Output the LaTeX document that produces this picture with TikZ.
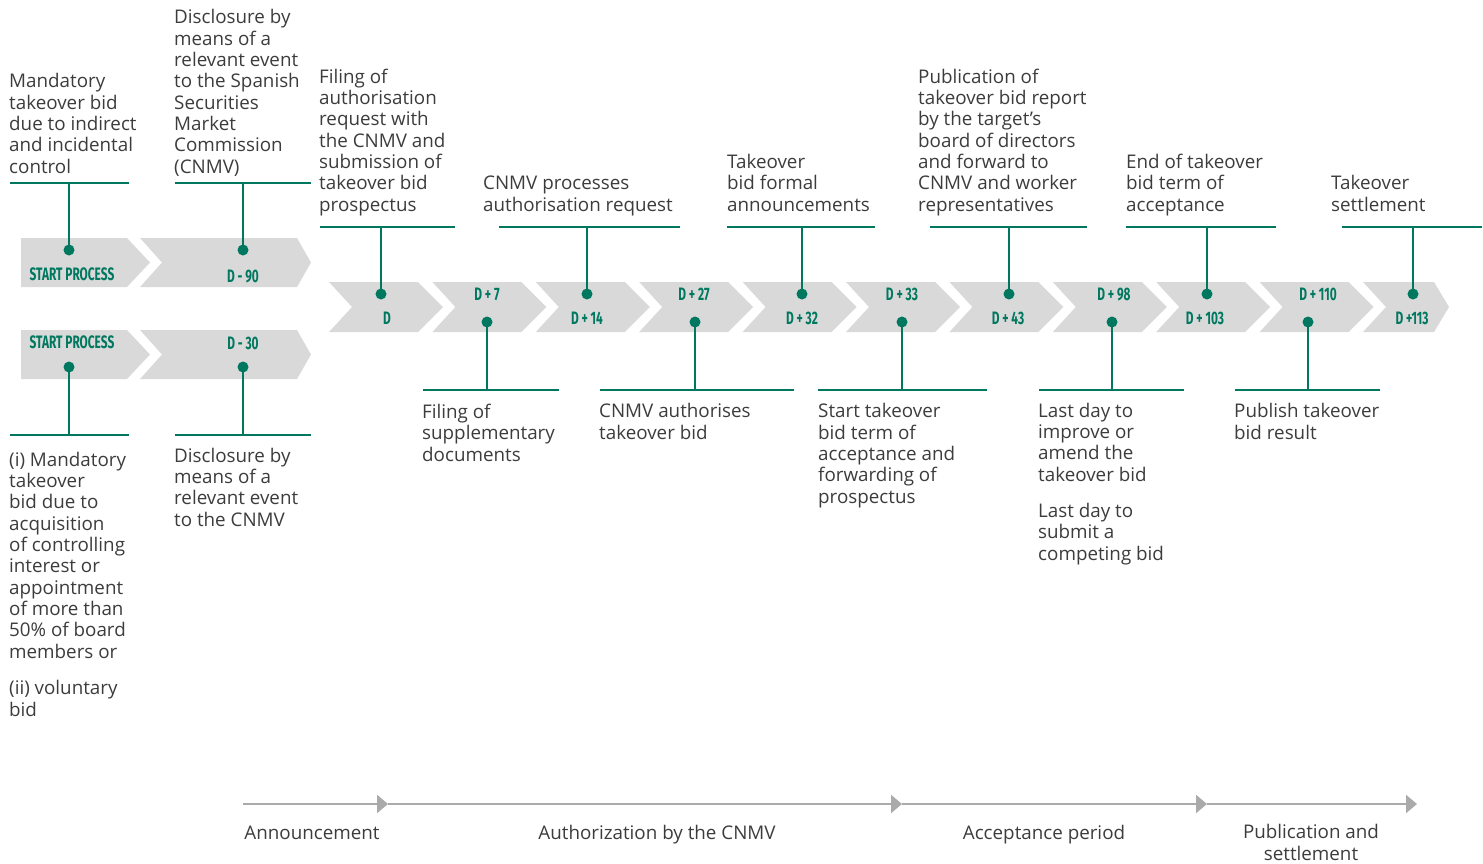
\documentclass[tikz,border=0pt]{standalone}
\usepackage{fontspec}
\setmainfont{Open Sans}
\newfontfamily\chevfont{Fira Sans}
\usetikzlibrary{arrows.meta}
\definecolor{dgreen}{RGB}{0,120,95}
\definecolor{chevgray}{RGB}{217,217,217}
\definecolor{txtgray}{RGB}{60,60,60}
\definecolor{tlgray}{RGB}{170,170,170}
\newcommand\chevtxt[1]{\scalebox{0.66}[1]{\chevfont\bfseries #1}}
\begin{document}
\begin{tikzpicture}[x=1pt,y=-1pt,
  chev/.style={fill=chevgray,draw=none},
  gdot/.style={circle,fill=dgreen,inner sep=0pt,minimum size=11pt},
  conn/.style={draw=dgreen,line width=2pt},
  desc/.style={anchor=base west,align=left,inner sep=0pt,text=txtgray,font=\fontsize{18.8}{21.3}\selectfont},
  clab/.style={text=dgreen,inner sep=0pt,anchor=base,font=\fontsize{18}{20}\selectfont},
  tl/.style={draw=tlgray,line width=2pt,-{Triangle[length=11pt,width=18pt]}},
  phase/.style={anchor=base,align=center,inner sep=0pt,text=txtgray,font=\fontsize{18.8}{21.3}\selectfont}]
\useasboundingbox (0,0) rectangle (1483,863);

% ---------- left chevrons ----------
\path[chev] (21,238) -- (127,238) -- (150,262.5) -- (127,287) -- (21,287) -- cycle;
\path[chev] (140,238) -- (297,238) -- (311,262.5) -- (297,287) -- (140,287) -- (162,262.5) -- cycle;
\path[chev] (21,330) -- (127,330) -- (150,354.5) -- (127,379) -- (21,379) -- cycle;
\path[chev] (140,330) -- (297,330) -- (311,354.5) -- (297,379) -- (140,379) -- (162,354.5) -- cycle;
\node[clab] (l1) at (72,280) {\chevtxt{START PROCESS}};
\node[clab] (l2) at (243,282) {\chevtxt{D - 90}};
\node[clab] (l3) at (72,348) {\chevtxt{START PROCESS}};
\node[clab] (l4) at (243,349) {\chevtxt{D - 30}};

% ---------- main chevrons ----------
\foreach \i in {0,...,9}{
  \pgfmathsetmacro\L{329+103.4*\i}
  \path[chev] (\L,282) -- ++(89,0) -- ++(25,25) -- ++(-25,25) -- ++(-89,0) -- ++(23,-25) -- cycle;
}
\path[chev] (1363,282) -- (1434,282) -- (1449,307) -- (1434,332) -- (1363,332) -- (1386,307) -- cycle;

\node[clab] (cD)   at (387,324) {\chevtxt{D}};
\node[clab] (cD7)  at (487,300) {\chevtxt{D + 7}};
\node[clab] (cD14) at (587,324) {\chevtxt{D + 14}};
\node[clab] (cD27) at (694,300) {\chevtxt{D + 27}};
\node[clab] (cD32) at (802,324) {\chevtxt{D + 32}};
\node[clab] (cD33) at (902,300) {\chevtxt{D + 33}};
\node[clab] (cD43) at (1008,324) {\chevtxt{D + 43}};
\node[clab] (cD98) at (1114,300) {\chevtxt{D + 98}};
\node[clab] (cD103) at (1205,324) {\chevtxt{D + 103}};
\node[clab] (cD110) at (1318,300) {\chevtxt{D + 110}};
\node[clab] (cD113) at (1412,324) {\chevtxt{D +113}};

% ---------- connectors: left ----------
\coordinate (h1a) at (10,183);  \coordinate (h1b) at (129,183); \coordinate (h1m) at (69,183);
\coordinate (h2a) at (175,183); \coordinate (h2b) at (311,183); \coordinate (h2m) at (243,183);
\coordinate (h3a) at (10,435);  \coordinate (h3b) at (129,435); \coordinate (h3m) at (69,435);
\coordinate (h4a) at (175,435); \coordinate (h4b) at (311,435); \coordinate (h4m) at (243,435);
\node[gdot] (d1) at (69,250) {};
\node[gdot] (d2) at (243,250) {};
\node[gdot] (d3) at (69,367) {};
\node[gdot] (d4) at (243,367) {};
\draw[conn] (h1a) -- (h1b); \draw[conn] (h1m) -- (d1.center);
\draw[conn] (h2a) -- (h2b); \draw[conn] (h2m) -- (d2.center);
\draw[conn] (h3a) -- (h3b); \draw[conn] (h3m) -- (d3.center);
\draw[conn] (h4a) -- (h4b); \draw[conn] (h4m) -- (d4.center);

% ---------- connectors: main upper ----------
\foreach \n/\a/\b/\m in {uD/320/455/381, uD14/499/680/587, uD32/727/875/802, uD43/930/1087/1009, uD103/1126/1276/1207, uD113/1342/1482/1413}{
  \coordinate (\n a) at (\a,227); \coordinate (\n b) at (\b,227); \coordinate (\n m) at (\m,227);
  \node[gdot] (\n dot) at (\m,294) {};
  \draw[conn] (\n a) -- (\n b);
  \draw[conn] (\n m) -- (\n dot.center);
}
% ---------- connectors: main lower ----------
\foreach \n/\a/\b/\m in {lD7/423/559/487, lD27/600/794/695, lD33/818/987/902, lD98/1039/1184/1112, lD110/1235/1380/1308}{
  \coordinate (\n a) at (\a,390); \coordinate (\n b) at (\b,390); \coordinate (\n m) at (\m,390);
  \node[gdot] (\n dot) at (\m,322) {};
  \draw[conn] (\n a) -- (\n b);
  \draw[conn] (\n m) -- (\n dot.center);
}

% ---------- texts (anchor = baseline of last line) ----------
\node[desc] (t1) at (9,173) {Mandatory\\takeover bid\\due to indirect\\and incidental\\control};
\node[desc] (t2) at (174,173) {Disclosure by\\means of a\\relevant event\\to the Spanish\\Securities\\Market\\Commission\\(CNMV)};
\node[desc] (t3) at (9,658) {(i) Mandatory\\takeover\\bid due to\\acquisition\\of controlling\\interest or\\appointment\\of more than\\50\% of board\\members or};
\node[desc] (t3b) at (9,716) {(ii) voluntary\\bid};
\node[desc] (t4) at (174,526) {Disclosure by\\means of a\\relevant event\\to the CNMV};

\node[desc] (tD) at (319,211) {Filing of\\authorisation\\request with\\the CNMV and\\submission of\\takeover bid\\prospectus};
\node[desc] (tD14) at (483,211) {CNMV processes\\authorisation request};
\node[desc] (tD32) at (727,211) {Takeover\\bid formal\\announcements};
\node[desc] (tD43) at (918,211) {Publication of\\takeover bid report\\by the target’s\\board of directors\\and forward to\\CNMV and worker\\representatives};
\node[desc] (tD103) at (1126,211) {End of takeover\\bid term of\\acceptance};
\node[desc] (tD113) at (1331,211) {Takeover\\settlement};

\node[desc] (tD7) at (422,461) {Filing of\\supplementary\\documents};
\node[desc] (tD27) at (599,439) {CNMV authorises\\takeover bid};
\node[desc] (tD33) at (818,503) {Start takeover\\bid term of\\acceptance and\\forwarding of\\prospectus};
\node[desc] (tD98) at (1038,481) {Last day to\\improve or\\amend the\\takeover bid};
\node[desc] (tD98b) at (1038,560) {Last day to\\submit a\\competing bid};
\node[desc] (tD110) at (1234,439) {Publish takeover\\bid result};

% ---------- bottom timeline ----------
\coordinate (p0) at (243,804);
\coordinate (p1) at (388,804);
\coordinate (p2) at (902,804);
\coordinate (p3) at (1207,804);
\coordinate (p4) at (1417,804);
\draw[tl] (p0) -- (p1);
\draw[tl] (p1) -- (p2);
\draw[tl] (p2) -- (p3);
\draw[tl] (p3) -- (p4);
\node[phase] (ph1) at (312,839) {Announcement};
\node[phase] (ph2) at (657,839) {Authorization by the CNMV};
\node[phase] (ph3) at (1044,839) {Acceptance period};
\node[phase] (ph4) at (1311,860) {Publication and\\settlement};
\end{tikzpicture}
\end{document}
